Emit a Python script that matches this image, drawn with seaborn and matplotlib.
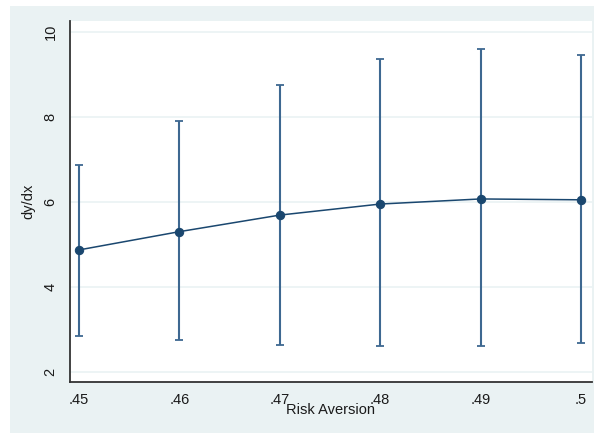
import matplotlib
matplotlib.use('Agg')
import matplotlib.pyplot as plt
import seaborn as sns
import pandas as pd
from matplotlib.patches import Rectangle

# marginal effects
risk_aversion = [0.45, 0.46, 0.47, 0.48, 0.49, 0.50]
dydx = [4.87, 5.30, 5.69, 5.95, 6.07, 6.05]
ci_low = [2.85, 2.75, 2.64, 2.61, 2.61, 2.67]
ci_high = [6.87, 7.90, 8.75, 9.36, 9.60, 9.47]
x_ticks = [0.45, 0.46, 0.47, 0.48, 0.49, 0.50]
x_tick_labels = ['.45', '.46', '.47', '.48', '.49', '.5']
y_ticks = [2, 4, 6, 8, 10]

df = pd.DataFrame({'Risk Aversion': risk_aversion, 'dy/dx': dydx,
                   'lo': ci_low, 'hi': ci_high})

sns.set_style('white')
plt.rcParams['font.family'] = ['Liberation Sans', 'DejaVu Sans']

W, H = 595, 434
fig = plt.figure(figsize=(W / 100, H / 100), dpi=100)
fig.patch.set_facecolor('white')

# light blue-gray graph region
bg = '#eaf2f3'
fig.add_artist(Rectangle((10 / W, 1 - 433 / H), (594 - 10) / W, (433 - 6) / H,
                         transform=fig.transFigure, facecolor=bg,
                         edgecolor='none', zorder=0))

ax = fig.add_axes([70 / W, 1 - 382 / H, (592 - 70) / W, (382 - 21) / H])
ax.set_facecolor('white')

navy = '#1a476f'
ci_col = '#3e6891'

ax.errorbar(df['Risk Aversion'], df['dy/dx'],
            yerr=[df['dy/dx'] - df['lo'], df['hi'] - df['dy/dx']],
            fmt='none', ecolor=ci_col, elinewidth=1.5, capsize=3, capthick=1.3, zorder=2)
sns.lineplot(data=df, x='Risk Aversion', y='dy/dx', ax=ax, color=navy,
             lw=1.1, marker='o', markersize=6, markeredgecolor=navy, zorder=3)

ax.set_xlim(0.4491, 0.5011)
ax.set_ylim(1.76, 10.26)
ax.set_xticks(x_ticks)
ax.set_xticklabels(x_tick_labels)
ax.set_yticks(y_ticks)
ax.set_yticklabels([str(v) for v in y_ticks], rotation=90, va='center')
ax.yaxis.grid(True, color=bg, lw=1.2)
ax.set_axisbelow(True)

for s in ['top', 'right']:
    ax.spines[s].set_visible(False)
for s in ['left', 'bottom']:
    ax.spines[s].set_color('#333333')
    ax.spines[s].set_linewidth(1.3)

ax.tick_params(axis='both', length=5, width=1, color='#333333',
               labelsize=10.5, labelcolor='#1a1a1a', pad=4, direction='out')
ax.tick_params(axis='x', pad=3)

ax.set_xlabel('Risk Aversion', fontsize=10.5, color='#1a1a1a', labelpad=-3)
ax.set_ylabel('dy/dx', fontsize=10.5, color='#1a1a1a', labelpad=6)

fig.savefig('out.png', dpi=100)
